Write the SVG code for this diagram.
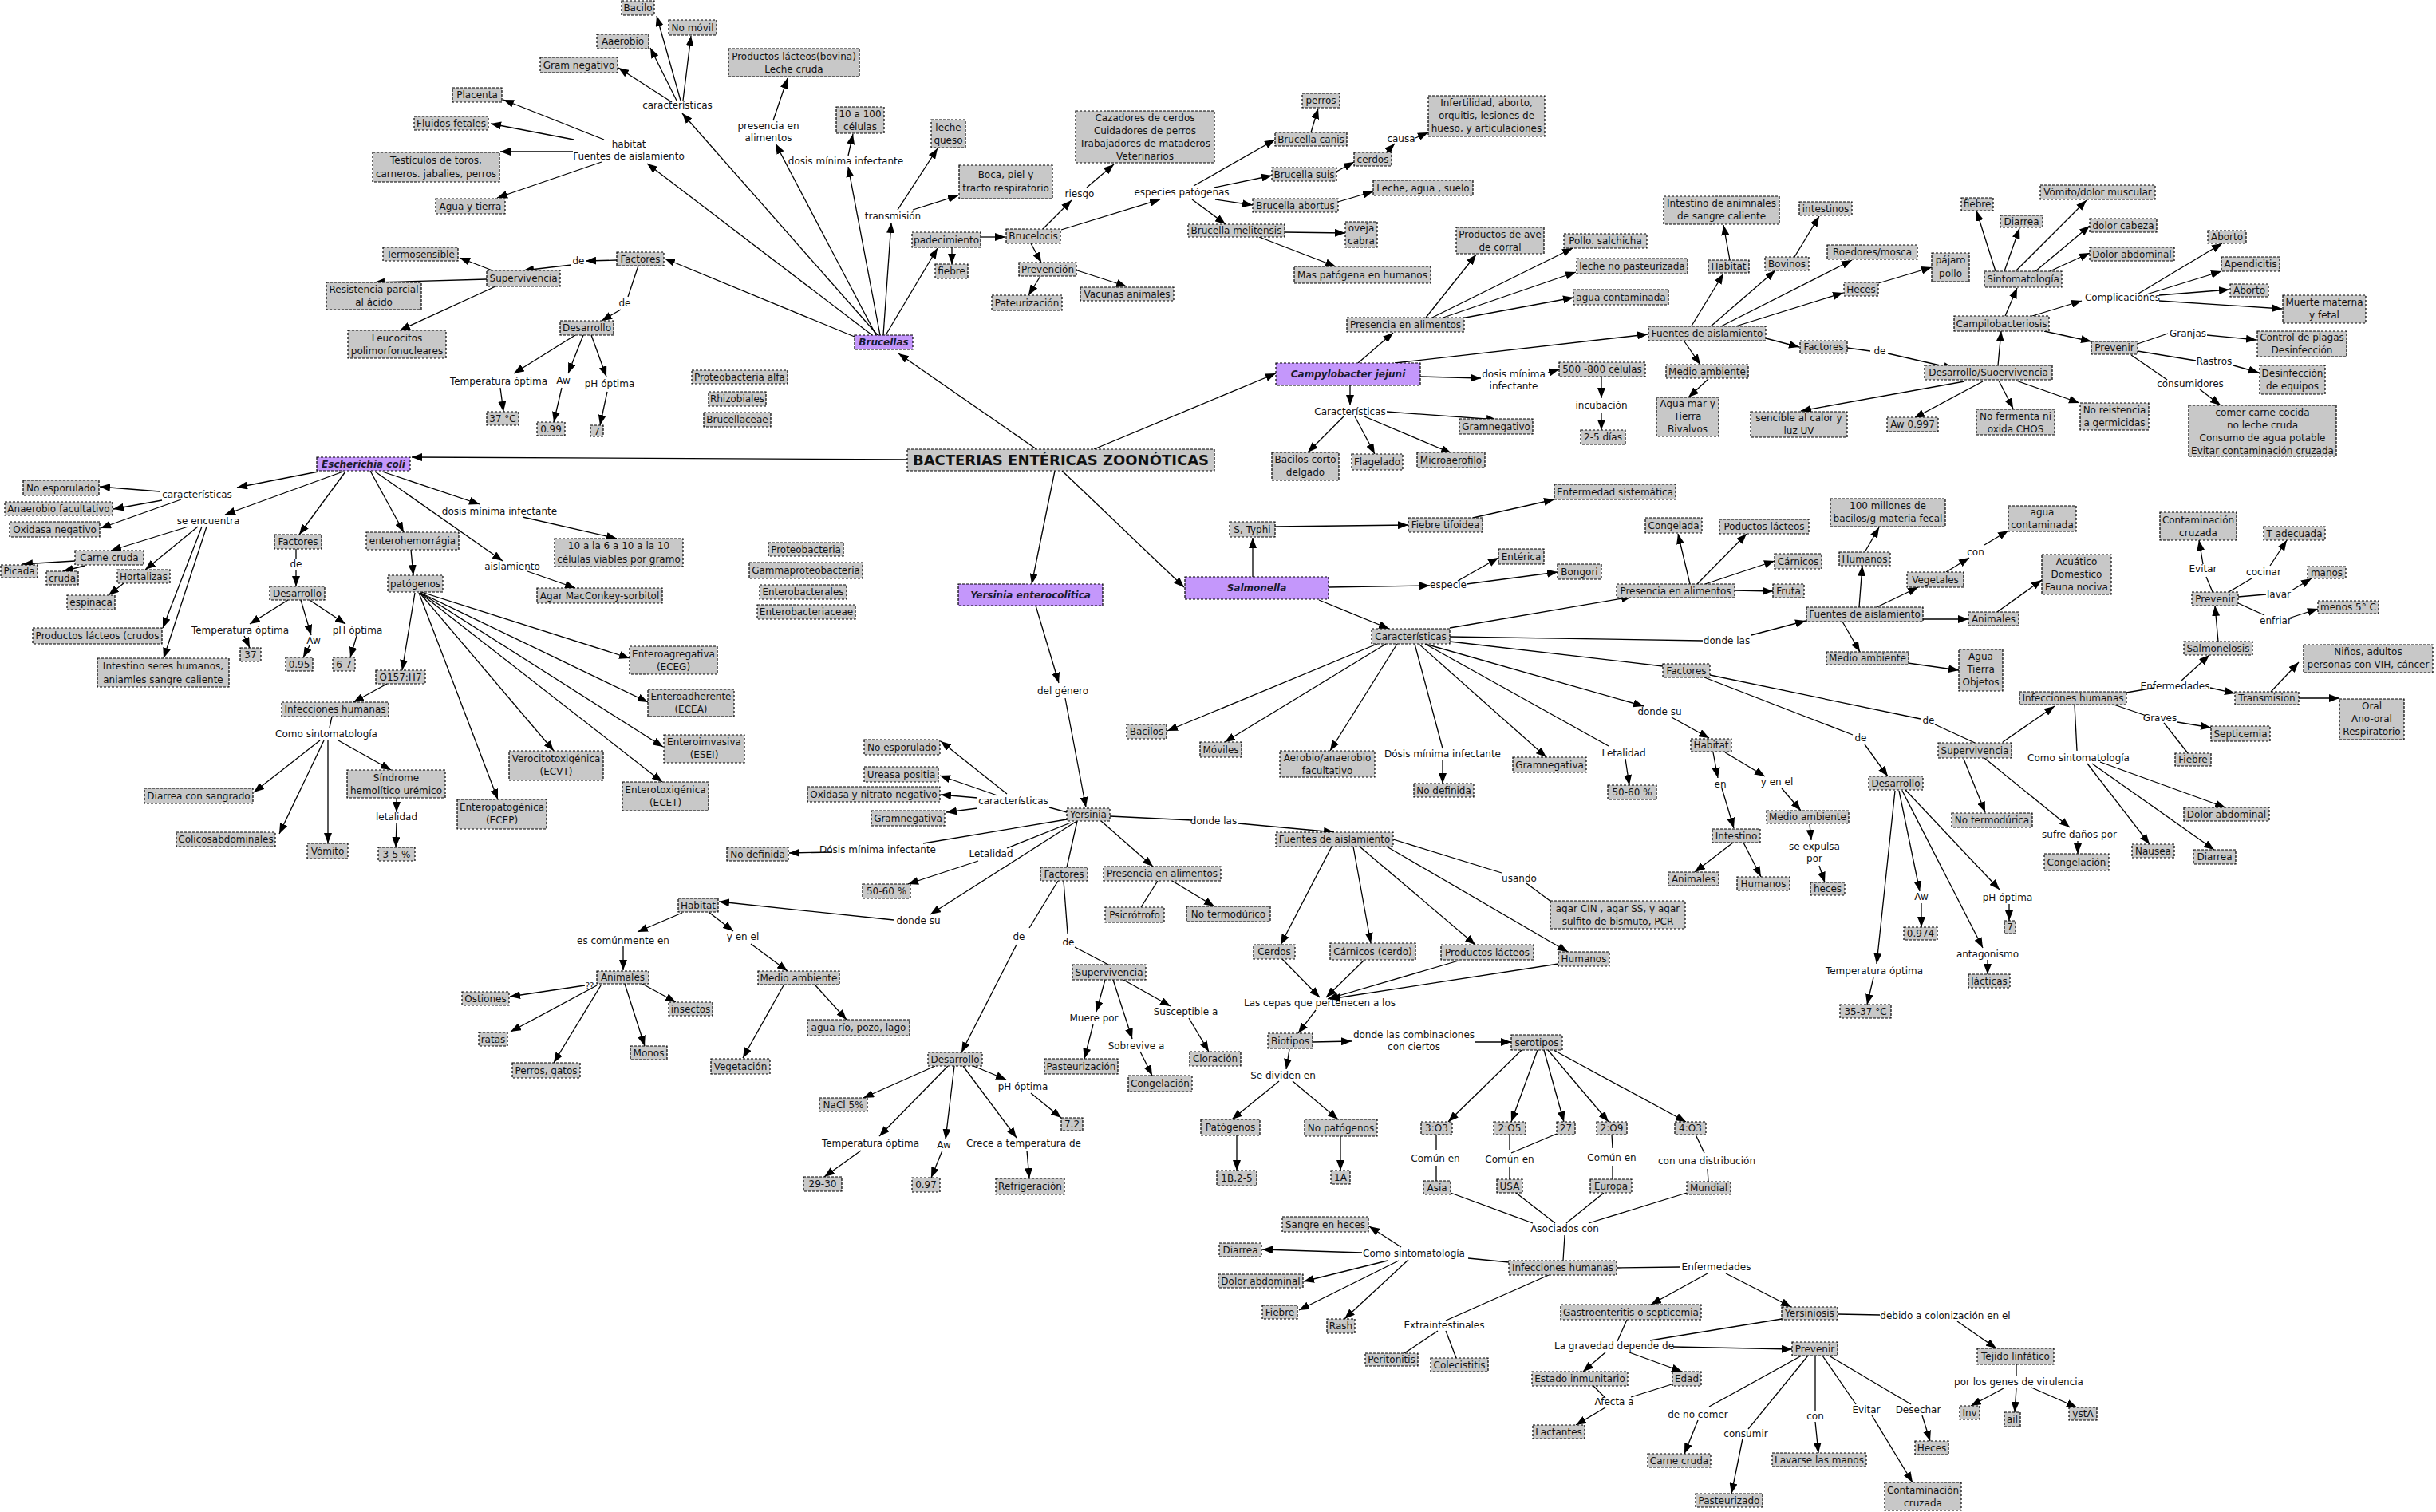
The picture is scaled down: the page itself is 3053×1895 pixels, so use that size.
<svg xmlns="http://www.w3.org/2000/svg" width="3053" height="1895" viewBox="0 0 3053 1895">
<defs>
<marker id="ah" markerWidth="13" markerHeight="10" refX="13" refY="5" orient="auto" markerUnits="userSpaceOnUse"><path d="M0,0 L13,5 L0,10 z" fill="#000"/></marker>
<style>
.n rect{fill:#c8c8c8;stroke:#000;stroke-width:1.2;stroke-dasharray:3 2}
.m rect{fill:#c497fb;stroke:#000;stroke-width:1.2;stroke-dasharray:3 2}
text{font-family:"DejaVu Sans",Verdana,sans-serif;font-size:12px;fill:#111;text-anchor:middle}
.m text{font-weight:bold;font-style:italic;fill:#1a1a2e}
.tt text{font-weight:bold;font-size:18px}
#connectors path{stroke:#000;stroke-width:1.3;fill:none}
#connectors .a{marker-end:url(#ah)}
</style>
</defs>
<rect width="3053" height="1895" fill="#fff"/>
<g id="connectors">
<!-- Brucellas -->
<path class="a" d="M1100,420 L855,142"/>
<path class="a" d="M853,126 L823,20"/>
<path class="a" d="M856,126 L866,45"/>
<path class="a" d="M848,126 L815,60"/>
<path class="a" d="M842,128 L775,85"/>
<path class="a" d="M1093,420 L811,205"/>
<path class="a" d="M757,175 L631,125"/>
<path class="a" d="M719,175 L615,155"/>
<path class="a" d="M718,190 L627,190"/>
<path class="a" d="M754,203 L623,248"/>
<path class="a" d="M1098,420 L972,180"/>
<path class="a" d="M969,151 L987,98"/>
<path class="a" d="M1103,420 L1063,209"/>
<path class="a" d="M1063,195 L1069,168"/>
<path class="a" d="M1107,420 L1117,279"/>
<path class="a" d="M1125,263 L1175,186"/>
<path class="a" d="M1144,263 L1201,245"/>
<path class="a" d="M1110,420 L1175,311"/>
<path class="a" d="M1193,310 L1193,331"/>
<path class="a" d="M1229,297 L1260,297"/>
<path class="a" d="M1307,287 L1343,251"/>
<path class="a" d="M1362,235 L1396,206"/>
<path class="a" d="M1330,288 L1454,250"/>
<path class="a" d="M1496,233 L1598,175"/>
<path class="a" d="M1522,235 L1594,220"/>
<path class="a" d="M1523,250 L1570,257"/>
<path class="a" d="M1494,250 L1536,281"/>
<path class="a" d="M1643,166 L1652,136"/>
<path class="a" d="M1675,215 L1697,203"/>
<path class="a" d="M1738,190 L1748,180"/>
<path class="a" d="M1774,173 L1790,166"/>
<path class="a" d="M1677,253 L1721,240"/>
<path class="a" d="M1610,291 L1686,292"/>
<path class="a" d="M1578,297 L1674,334"/>
<path class="a" d="M1292,305 L1305,329"/>
<path class="a" d="M1304,346 L1289,370"/>
<path class="a" d="M1347,338 L1412,359"/>
<path class="a" d="M1071,422 L833,324"/>
<path class="a" d="M773,326 L734,327"/>
<path class="a" d="M716,332 L656,339"/>
<path class="a" d="M617,339 L576,323"/>
<path class="a" d="M610,350 L469,354"/>
<path class="a" d="M621,359 L501,414"/>
<path d="M800,333 L787,372"/>
<path class="a" d="M778,388 L754,402"/>
<path class="a" d="M721,420 L644,468"/>
<path class="a" d="M731,420 L712,468"/>
<path class="a" d="M741,420 L760,472"/>
<path class="a" d="M627,486 L631,516"/>
<path class="a" d="M704,486 L694,529"/>
<path class="a" d="M761,491 L752,533"/>
<!-- title -->
<path class="a" d="M1299,563 L1126,443"/>
<path class="a" d="M1137,576 L516,573"/>
<path class="a" d="M1371,563 L1599,468"/>
<path class="a" d="M1322,590 L1293,732"/>
<path class="a" d="M1331,590 L1484,736"/>
<!-- Campylobacter -->
<path class="a" d="M1702,455 L1746,417"/>
<path class="a" d="M1787,398 L1850,319"/>
<path class="a" d="M1795,398 L1971,311"/>
<path class="a" d="M1803,400 L1975,341"/>
<path class="a" d="M1815,402 L1972,373"/>
<path class="a" d="M1748,455 L2065,419"/>
<path class="a" d="M2119,410 L2160,343"/>
<path class="a" d="M2168,326 L2160,282"/>
<path class="a" d="M2144,409 L2225,339"/>
<path class="a" d="M2249,322 L2280,271"/>
<path class="a" d="M2157,409 L2321,326"/>
<path class="a" d="M2172,410 L2310,367"/>
<path class="a" d="M2354,355 L2421,335"/>
<path class="a" d="M2111,428 L2131,457"/>
<path class="a" d="M2141,475 L2116,498"/>
<path class="a" d="M2213,424 L2255,435"/>
<path d="M2315,436 L2344,440"/>
<path class="a" d="M2366,443 L2449,462"/>
<path class="a" d="M2462,478 L2257,515"/>
<path class="a" d="M2485,478 L2399,524"/>
<path class="a" d="M2505,477 L2523,512"/>
<path class="a" d="M2527,477 L2606,505"/>
<path class="a" d="M2504,458 L2508,415"/>
<path class="a" d="M2513,396 L2528,361"/>
<path class="a" d="M2501,340 L2477,264"/>
<path class="a" d="M2512,340 L2531,286"/>
<path class="a" d="M2526,340 L2615,251"/>
<path class="a" d="M2551,340 L2619,283"/>
<path class="a" d="M2569,340 L2619,317"/>
<path class="a" d="M2547,396 L2609,377"/>
<path class="a" d="M2680,368 L2785,305"/>
<path class="a" d="M2690,369 L2784,340"/>
<path class="a" d="M2706,370 L2794,363"/>
<path class="a" d="M2706,377 L2860,387"/>
<path class="a" d="M2562,415 L2621,428"/>
<path d="M2679,431 L2717,418"/>
<path class="a" d="M2766,420 L2828,426"/>
<path d="M2679,440 L2752,452"/>
<path class="a" d="M2799,458 L2831,467"/>
<path d="M2671,445 L2716,476"/>
<path class="a" d="M2757,488 L2783,508"/>
<path class="a" d="M1780,472 L1856,474"/>
<path class="a" d="M1940,467 L1954,463"/>
<path class="a" d="M2007,472 L2007,499"/>
<path class="a" d="M2007,517 L2007,539"/>
<path class="a" d="M1692,483 L1692,508"/>
<path class="a" d="M1738,516 L1876,526"/>
<path class="a" d="M1684,522 L1639,567"/>
<path class="a" d="M1698,522 L1723,569"/>
<path class="a" d="M1710,522 L1819,568"/>
<!-- Salmonella -->
<path class="a" d="M1570,723 L1570,674"/>
<path class="a" d="M1598,660 L1765,658"/>
<path class="a" d="M1846,649 L1948,626"/>
<path class="a" d="M1665,736 L1792,734"/>
<path class="a" d="M1827,728 L1878,699"/>
<path class="a" d="M1838,732 L1952,717"/>
<path class="a" d="M1653,752 L1741,788"/>
<path class="a" d="M1817,787 L2045,748"/>
<path class="a" d="M2118,732 L2103,669"/>
<path class="a" d="M2127,732 L2189,669"/>
<path class="a" d="M2137,732 L2224,703"/>
<path class="a" d="M2174,740 L2222,741"/>
<path d="M1817,798 L2134,803"/>
<path class="a" d="M2195,796 L2263,778"/>
<path d="M1817,804 L2084,835"/>
<path class="a" d="M2330,761 L2334,709"/>
<path class="a" d="M2337,692 L2355,661"/>
<path class="a" d="M2352,761 L2404,736"/>
<path class="a" d="M2439,717 L2468,699"/>
<path class="a" d="M2487,683 L2517,665"/>
<path class="a" d="M2410,776 L2467,776"/>
<path class="a" d="M2503,767 L2559,727"/>
<path class="a" d="M2309,779 L2331,817"/>
<path class="a" d="M2391,831 L2455,840"/>
<path d="M2136,849 L2322,921"/>
<path d="M2143,846 L2407,901"/>
<path class="a" d="M2337,933 L2366,973"/>
<path d="M2425,908 L2475,931"/>
<path class="a" d="M2510,930 L2575,885"/>
<path class="a" d="M2461,951 L2488,1018"/>
<path class="a" d="M2487,950 L2594,1037"/>
<path class="a" d="M2604,1054 L2604,1070"/>
<path d="M2665,868 L2700,862"/>
<path class="a" d="M2734,853 L2769,821"/>
<path class="a" d="M2780,804 L2776,759"/>
<path d="M2773,742 L2765,723"/>
<path class="a" d="M2761,707 L2756,677"/>
<path d="M2793,742 L2822,725"/>
<path class="a" d="M2845,709 L2866,677"/>
<path d="M2805,748 L2840,745"/>
<path class="a" d="M2872,740 L2897,725"/>
<path d="M2805,756 L2838,771"/>
<path class="a" d="M2868,775 L2905,763"/>
<path class="a" d="M2770,862 L2801,869"/>
<path class="a" d="M2846,867 L2881,830"/>
<path class="a" d="M2881,875 L2932,875"/>
<path d="M2649,883 L2690,897"/>
<path class="a" d="M2729,905 L2771,912"/>
<path d="M2712,906 L2742,944"/>
<path d="M2600,883 L2603,941"/>
<path class="a" d="M2616,957 L2694,1058"/>
<path class="a" d="M2622,957 L2775,1065"/>
<path class="a" d="M2632,955 L2789,1012"/>
<path class="a" d="M1786,807 L2060,885"/>
<path class="a" d="M2095,899 L2142,925"/>
<path class="a" d="M2147,943 L2153,975"/>
<path class="a" d="M2158,988 L2173,1038"/>
<path class="a" d="M2172,1056 L2124,1093"/>
<path class="a" d="M2185,1056 L2207,1099"/>
<path class="a" d="M2162,943 L2212,973"/>
<path class="a" d="M2233,988 L2257,1016"/>
<path class="a" d="M2268,1033 L2270,1053"/>
<path class="a" d="M2280,1085 L2287,1106"/>
<path class="a" d="M2375,991 L2352,1208"/>
<path class="a" d="M2348,1225 L2340,1259"/>
<path class="a" d="M2380,991 L2406,1117"/>
<path class="a" d="M2408,1132 L2408,1162"/>
<path class="a" d="M2384,991 L2485,1188"/>
<path class="a" d="M2491,1203 L2491,1221"/>
<path class="a" d="M2388,990 L2506,1115"/>
<path class="a" d="M2518,1133 L2518,1154"/>
<path class="a" d="M1726,807 L1463,916"/>
<path class="a" d="M1737,807 L1535,930"/>
<path class="a" d="M1751,807 L1667,941"/>
<path d="M1773,807 L1808,938"/>
<path class="a" d="M1808,952 L1808,982"/>
<path class="a" d="M1778,807 L1938,949"/>
<path d="M1786,807 L2016,935"/>
<path class="a" d="M2037,951 L2042,984"/>
<!-- Yersinia -->
<path class="a" d="M1298,759 L1327,856"/>
<path class="a" d="M1335,875 L1361,1012"/>
<path d="M1337,1018 L1315,1012"/>
<path class="a" d="M1262,995 L1179,929"/>
<path class="a" d="M1250,997 L1178,972"/>
<path class="a" d="M1225,1000 L1179,996"/>
<path class="a" d="M1225,1013 L1186,1018"/>
<path d="M1337,1027 L1157,1057"/>
<path class="a" d="M1043,1068 L989,1069"/>
<path d="M1342,1031 L1262,1063"/>
<path class="a" d="M1226,1079 L1138,1108"/>
<path class="a" d="M1348,1030 L1166,1146"/>
<path class="a" d="M1120,1153 L901,1130"/>
<path class="a" d="M855,1144 L799,1168"/>
<path class="a" d="M781,1186 L781,1216"/>
<path class="a" d="M888,1143 L919,1167"/>
<path class="a" d="M941,1183 L987,1217"/>
<path class="a" d="M733,1235 L639,1249"/>
<path class="a" d="M748,1235 L640,1293"/>
<path class="a" d="M753,1235 L694,1332"/>
<path class="a" d="M783,1233 L808,1311"/>
<path class="a" d="M805,1233 L847,1256"/>
<path class="a" d="M982,1235 L931,1326"/>
<path class="a" d="M1022,1235 L1061,1278"/>
<path d="M1350,1029 L1337,1087"/>
<path d="M1326,1104 L1290,1163"/>
<path class="a" d="M1274,1184 L1205,1319"/>
<path d="M1333,1104 L1338,1170"/>
<path d="M1347,1187 L1389,1209"/>
<path class="a" d="M1385,1228 L1374,1268"/>
<path class="a" d="M1370,1284 L1359,1327"/>
<path class="a" d="M1395,1228 L1419,1302"/>
<path class="a" d="M1429,1318 L1444,1348"/>
<path class="a" d="M1408,1228 L1467,1261"/>
<path class="a" d="M1490,1276 L1515,1318"/>
<path class="a" d="M1172,1336 L1082,1376"/>
<path class="a" d="M1188,1336 L1102,1424"/>
<path class="a" d="M1079,1442 L1033,1475"/>
<path class="a" d="M1196,1336 L1185,1428"/>
<path class="a" d="M1181,1442 L1167,1476"/>
<path class="a" d="M1207,1336 L1274,1426"/>
<path class="a" d="M1287,1442 L1290,1477"/>
<path class="a" d="M1220,1336 L1261,1353"/>
<path class="a" d="M1292,1370 L1330,1401"/>
<path class="a" d="M1380,1029 L1445,1086"/>
<path d="M1451,1104 L1430,1137"/>
<path class="a" d="M1469,1104 L1522,1136"/>
<path d="M1391,1023 L1494,1028"/>
<path class="a" d="M1552,1032 L1672,1043"/>
<path d="M1746,1052 L1882,1094"/>
<path d="M1913,1107 L1944,1130"/>
<path class="a" d="M1669,1061 L1605,1184"/>
<path class="a" d="M1696,1061 L1718,1182"/>
<path class="a" d="M1704,1061 L1849,1184"/>
<path class="a" d="M1738,1061 L1965,1193"/>
<path class="a" d="M1607,1202 L1654,1250"/>
<path class="a" d="M1710,1203 L1662,1250"/>
<path class="a" d="M1828,1204 L1664,1252"/>
<path class="a" d="M1953,1208 L1667,1252"/>
<path class="a" d="M1649,1266 L1627,1295"/>
<path class="a" d="M1645,1306 L1694,1305"/>
<path class="a" d="M1849,1306 L1894,1306"/>
<path class="a" d="M1616,1315 L1612,1340"/>
<path class="a" d="M1603,1355 L1544,1403"/>
<path class="a" d="M1620,1355 L1677,1403"/>
<path class="a" d="M1550,1423 L1550,1467"/>
<path class="a" d="M1680,1424 L1680,1467"/>
<path class="a" d="M1907,1316 L1815,1406"/>
<path class="a" d="M1927,1316 L1894,1406"/>
<path class="a" d="M1935,1316 L1960,1406"/>
<path class="a" d="M1940,1316 L2016,1406"/>
<path class="a" d="M1947,1316 L2113,1406"/>
<path d="M1800,1422 L1800,1441 M1800,1461 L1800,1480"/>
<path d="M1892,1422 L1892,1441 M1892,1462 L1892,1478 M1951,1421 L1894,1445"/>
<path d="M2020,1422 L2021,1439 M2021,1461 L2021,1478"/>
<path d="M2125,1422 L2136,1445 M2140,1465 L2141,1481"/>
<path d="M1818,1495 L1921,1533 M1900,1495 L1949,1533 M2010,1495 L1963,1533 M2114,1495 L1991,1533"/>
<path d="M1961,1548 L1959,1580"/>
<path d="M1891,1582 L1840,1577"/>
<path class="a" d="M1756,1563 L1716,1537"/>
<path class="a" d="M1707,1570 L1582,1566"/>
<path class="a" d="M1739,1580 L1634,1606"/>
<path class="a" d="M1753,1580 L1628,1642"/>
<path class="a" d="M1765,1579 L1685,1653"/>
<path d="M1941,1598 L1812,1655"/>
<path d="M1802,1668 L1760,1696"/>
<path d="M1812,1668 L1825,1702"/>
<path d="M2026,1589 L2105,1588"/>
<path class="a" d="M2140,1596 L2069,1635"/>
<path class="a" d="M2163,1596 L2245,1638"/>
<path d="M2303,1647 L2356,1648"/>
<path class="a" d="M2453,1656 L2502,1690"/>
<path d="M2527,1710 L2527,1724"/>
<path class="a" d="M2511,1740 L2470,1762"/>
<path class="a" d="M2527,1740 L2525,1770"/>
<path class="a" d="M2546,1739 L2603,1764"/>
<path d="M2039,1654 L2027,1681"/>
<path d="M2233,1653 L2068,1680"/>
<path class="a" d="M2097,1688 L2246,1691"/>
<path class="a" d="M2012,1695 L1984,1719"/>
<path class="a" d="M2042,1695 L2108,1719"/>
<path d="M1997,1737 L2012,1752"/>
<path d="M2095,1735 L2044,1751"/>
<path class="a" d="M2012,1764 L1975,1786"/>
<path d="M2258,1699 L2142,1763"/>
<path class="a" d="M2128,1780 L2111,1822"/>
<path d="M2266,1699 L2191,1791"/>
<path class="a" d="M2184,1803 L2170,1872"/>
<path d="M2275,1699 L2275,1768"/>
<path class="a" d="M2275,1782 L2279,1821"/>
<path d="M2284,1699 L2326,1760"/>
<path class="a" d="M2346,1774 L2397,1858"/>
<path d="M2292,1699 L2395,1760"/>
<path class="a" d="M2409,1774 L2419,1806"/>
<!-- E. coli -->
<path class="a" d="M399,591 L297,611"/>
<path class="a" d="M200,616 L125,610"/>
<path class="a" d="M203,627 L142,638"/>
<path class="a" d="M227,626 L126,662"/>
<path class="a" d="M430,591 L282,645"/>
<path class="a" d="M236,660 L139,690"/>
<path class="a" d="M94,703 L28,707"/>
<path class="a" d="M106,709 L79,716"/>
<path class="a" d="M248,660 L182,714"/>
<path class="a" d="M155,731 L136,746"/>
<path class="a" d="M253,660 L204,787"/>
<path class="a" d="M259,660 L205,825"/>
<path class="a" d="M433,591 L375,670"/>
<path d="M371,688 L371,700"/>
<path class="a" d="M371,715 L371,735"/>
<path class="a" d="M361,752 L313,782"/>
<path class="a" d="M377,752 L390,796"/>
<path class="a" d="M388,752 L433,782"/>
<path class="a" d="M306,797 L313,812"/>
<path class="a" d="M388,809 L380,824"/>
<path class="a" d="M447,797 L439,824"/>
<path class="a" d="M464,590 L506,667"/>
<path class="a" d="M515,689 L518,721"/>
<path class="a" d="M520,743 L504,840"/>
<path class="a" d="M485,857 L443,880"/>
<path d="M416,898 L413,912"/>
<path class="a" d="M401,928 L318,993"/>
<path class="a" d="M406,928 L350,1045"/>
<path class="a" d="M411,928 L411,1057"/>
<path class="a" d="M424,928 L490,965"/>
<path class="a" d="M497,1000 L497,1018"/>
<path class="a" d="M497,1031 L496,1062"/>
<path class="a" d="M525,743 L624,1002"/>
<path class="a" d="M526,743 L694,941"/>
<path class="a" d="M528,742 L789,825"/>
<path class="a" d="M527,743 L812,880"/>
<path class="a" d="M527,743 L831,936"/>
<path class="a" d="M526,743 L830,980"/>
<path class="a" d="M479,591 L601,632"/>
<path class="a" d="M655,648 L773,675"/>
<path class="a" d="M470,591 L630,703"/>
<path class="a" d="M661,716 L721,737"/>
</g>

<g id="title" class="n tt"><rect x="1137" y="563" width="385" height="27"/><text x="1329.5" y="583">BACTERIAS ENTÉRICAS ZOONÓTICAS</text></g>

<g id="brucellas" class="m"><rect x="1071" y="420" width="73" height="18"/><text x="1107.5" y="433">Brucellas</text></g>
<g id="ecoli" class="m"><rect x="397" y="573" width="117" height="17"/><text x="455.5" y="586">Escherichia coli</text></g>
<g id="campy" class="m"><rect x="1599" y="455" width="181" height="28"/><text x="1689.5" y="473">Campylobacter jejuni</text></g>
<g id="yersent" class="m"><rect x="1201" y="732" width="181" height="27"/><text x="1291.5" y="750">Yersinia enterocolitica</text></g>
<g id="salmonella" class="m"><rect x="1485" y="723" width="180" height="28"/><text x="1575" y="741">Salmonella</text></g>

<!-- Brucellas nodes -->
<g id="b1" class="n"><rect x="779" y="1" width="41" height="18"/><text x="799.5" y="14">Bacilo</text></g>
<g id="b2" class="n"><rect x="838" y="25" width="60" height="19"/><text x="868" y="39">No móvil</text></g>
<g id="b3" class="n"><rect x="748" y="43" width="65" height="18"/><text x="780.5" y="56">Aaerobio</text></g>
<g id="b4" class="n"><rect x="677" y="72" width="97" height="19"/><text x="725.5" y="86">Gram negativo</text></g>
<g id="b5" class="n"><rect x="913" y="61" width="164" height="35"/><text x="995" y="75">Productos lácteos(bovina)</text><text x="995" y="91">Leche cruda</text></g>
<g id="b6" class="n"><rect x="567" y="110" width="62" height="18"/><text x="598" y="123">Placenta</text></g>
<g id="b7" class="n"><rect x="519" y="146" width="93" height="17"/><text x="565.5" y="159">Fluidos fetales</text></g>
<g id="b8" class="n"><rect x="467" y="191" width="159" height="37"/><text x="546.5" y="205">Testículos de toros,</text><text x="546.5" y="222">carneros. jabalies, perros</text></g>
<g id="b9" class="n"><rect x="546" y="249" width="87" height="19"/><text x="589.5" y="263">Agua y tierra</text></g>
<g id="b10" class="n"><rect x="1048" y="134" width="60" height="33"/><text x="1078" y="147">10 a 100</text><text x="1078" y="163">células</text></g>
<g id="b11" class="n"><rect x="1167" y="150" width="43" height="35"/><text x="1188.5" y="164">leche</text><text x="1188.5" y="180">queso</text></g>
<g id="b12" class="n"><rect x="1202" y="207" width="117" height="42"/><text x="1260.5" y="223">Boca, piel y</text><text x="1260.5" y="240">tracto respiratorio</text></g>
<g id="b13" class="n"><rect x="1143" y="291" width="86" height="19"/><text x="1186" y="305">padecimiento</text></g>
<g id="b14" class="n"><rect x="1172" y="331" width="41" height="18"/><text x="1192.5" y="344">fiebre</text></g>
<g id="b15" class="n"><rect x="1261" y="287" width="68" height="18"/><text x="1295" y="300">Brucelocis</text></g>
<g id="b16" class="n"><rect x="1348" y="139" width="174" height="65"/><text x="1435" y="152">Cazadores de cerdos</text><text x="1435" y="168">Cuidadores de perros</text><text x="1435" y="184">Trabajadores de mataderos</text><text x="1435" y="200">Veterinarios</text></g>
<g id="b17" class="n"><rect x="1277" y="329" width="72" height="17"/><text x="1313" y="342">Prevención</text></g>
<g id="b18" class="n"><rect x="1243" y="370" width="88" height="19"/><text x="1287" y="384">Pateurización</text></g>
<g id="b19" class="n"><rect x="1354" y="360" width="117" height="17"/><text x="1412.5" y="373">Vacunas animales</text></g>
<g id="b20" class="n"><rect x="1632" y="117" width="47" height="18"/><text x="1655.5" y="130">perros</text></g>
<g id="b21" class="n"><rect x="1598" y="166" width="90" height="17"/><text x="1643" y="179">Brucella canis</text></g>
<g id="b22" class="n"><rect x="1594" y="210" width="81" height="17"/><text x="1634.5" y="223">Brucella suis</text></g>
<g id="b23" class="n"><rect x="1697" y="191" width="47" height="17"/><text x="1720.5" y="204">cerdos</text></g>
<g id="b24" class="n"><rect x="1790" y="120" width="146" height="51"/><text x="1863" y="133">Infertilidad, aborto,</text><text x="1863" y="149">orquitis, lesiones de</text><text x="1863" y="165">hueso, y articulaciones</text></g>
<g id="b25" class="n"><rect x="1570" y="249" width="107" height="17"/><text x="1623.5" y="262">Brucella abortus</text></g>
<g id="b26" class="n"><rect x="1721" y="226" width="125" height="19"/><text x="1783.5" y="240">Leche, agua , suelo</text></g>
<g id="b27" class="n"><rect x="1489" y="281" width="121" height="16"/><text x="1549.5" y="293">Brucella melitensis</text></g>
<g id="b28" class="n"><rect x="1686" y="278" width="40" height="32"/><text x="1706" y="290">oveja</text><text x="1706" y="306">cabra</text></g>
<g id="b29" class="n"><rect x="1622" y="334" width="171" height="21"/><text x="1707.5" y="349">Mas patógena en humanos</text></g>
<g id="b30" class="n"><rect x="480" y="310" width="94" height="17"/><text x="527" y="323">Termosensible</text></g>
<g id="b31" class="n"><rect x="773" y="316" width="59" height="17"/><text x="802.5" y="329">Factores</text></g>
<g id="b32" class="n"><rect x="610" y="339" width="92" height="20"/><text x="656" y="353">Supervivencia</text></g>
<g id="b33" class="n"><rect x="409" y="354" width="119" height="34"/><text x="468.5" y="367">Resistencia parcial</text><text x="468.5" y="383">al ácido</text></g>
<g id="b34" class="n"><rect x="436" y="414" width="123" height="35"/><text x="497.5" y="428">Leucocitos</text><text x="497.5" y="444">polimorfonucleares</text></g>
<g id="b35" class="n"><rect x="702" y="402" width="67" height="18"/><text x="735.5" y="415">Desarrollo</text></g>
<g id="b36" class="n"><rect x="610" y="516" width="40" height="17"/><text x="630" y="529">37 °C</text></g>
<g id="b37" class="n"><rect x="673" y="529" width="35" height="17"/><text x="690.5" y="542">0.99</text></g>
<g id="b38" class="n"><rect x="740" y="533" width="16" height="14"/><text x="748" y="545">7</text></g>
<g id="b39" class="n"><rect x="867" y="464" width="120" height="17"/><text x="927" y="477">Proteobacteria alfa</text></g>
<g id="b40" class="n"><rect x="888" y="491" width="72" height="18"/><text x="924" y="504">Rhizobiales</text></g>
<g id="b41" class="n"><rect x="882" y="517" width="84" height="18"/><text x="924" y="530">Brucellaceae</text></g>

<!-- Campylobacter nodes -->
<g id="c1" class="n"><rect x="1688" y="398" width="147" height="18"/><text x="1761.5" y="411">Presencia en alimentos</text></g>
<g id="c2" class="n"><rect x="1825" y="285" width="110" height="33"/><text x="1880" y="298">Productos de ave</text><text x="1880" y="314">de corral</text></g>
<g id="c3" class="n"><rect x="1960" y="293" width="104" height="18"/><text x="2012" y="306">Pollo. salchicha</text></g>
<g id="c4" class="n"><rect x="1976" y="324" width="139" height="19"/><text x="2045.5" y="338">leche no pasteurizada</text></g>
<g id="c5" class="n"><rect x="1972" y="363" width="119" height="19"/><text x="2031.5" y="377">agua contaminada</text></g>
<g id="c6" class="n"><rect x="1954" y="454" width="108" height="18"/><text x="2008" y="467">500 -800 células</text></g>
<g id="c7" class="n"><rect x="1981" y="539" width="56" height="18"/><text x="2009" y="552">2-5 días</text></g>
<g id="c8" class="n"><rect x="1829" y="525" width="92" height="19"/><text x="1875" y="539">Gramnegativo</text></g>
<g id="c9" class="n"><rect x="1594" y="567" width="84" height="35"/><text x="1636" y="580">Bacilos corto</text><text x="1636" y="596">delgado</text></g>
<g id="c10" class="n"><rect x="1694" y="569" width="64" height="20"/><text x="1726" y="583">Flagelado</text></g>
<g id="c11" class="n"><rect x="1776" y="567" width="85" height="19"/><text x="1818.5" y="581">Microaerofilo</text></g>
<g id="c12" class="n"><rect x="2066" y="409" width="147" height="18"/><text x="2139.5" y="422">Fuentes de aislamiento</text></g>
<g id="c13" class="n"><rect x="2085" y="246" width="145" height="35"/><text x="2157.5" y="259">Intestino de animnales</text><text x="2157.5" y="275">de sangre caliente</text></g>
<g id="c14" class="n"><rect x="2255" y="253" width="66" height="17"/><text x="2288" y="266">intestinos</text></g>
<g id="c15" class="n"><rect x="2141" y="326" width="51" height="16"/><text x="2166.5" y="338">Habitat</text></g>
<g id="c16" class="n"><rect x="2212" y="322" width="55" height="17"/><text x="2239.5" y="335">Bovinos</text></g>
<g id="c17" class="n"><rect x="2290" y="307" width="113" height="18"/><text x="2346.5" y="320">Roedores/mosca</text></g>
<g id="c18" class="n"><rect x="2421" y="317" width="47" height="36"/><text x="2444.5" y="330">pájaro</text><text x="2444.5" y="347">pollo</text></g>
<g id="c19" class="n"><rect x="2311" y="354" width="43" height="17"/><text x="2332.5" y="367">Heces</text></g>
<g id="c20" class="n"><rect x="2256" y="427" width="59" height="16"/><text x="2285.5" y="439">Factores</text></g>
<g id="c21" class="n"><rect x="2412" y="458" width="160" height="18"/><text x="2492" y="471">Desarrollo/Suoervivencia</text></g>
<g id="c22" class="n"><rect x="2088" y="457" width="103" height="17"/><text x="2139.5" y="470">Medio ambiente</text></g>
<g id="c23" class="n"><rect x="2076" y="498" width="78" height="49"/><text x="2115" y="510">Agua mar y</text><text x="2115" y="526">Tierra</text><text x="2115" y="542">Bivalvos</text></g>
<g id="c24" class="n"><rect x="2194" y="516" width="121" height="32"/><text x="2254.5" y="528">sencible al calor y</text><text x="2254.5" y="544">luz UV</text></g>
<g id="c25" class="n"><rect x="2365" y="523" width="64" height="18"/><text x="2397" y="536">Aw 0.997</text></g>
<g id="c26" class="n"><rect x="2477" y="513" width="98" height="32"/><text x="2526" y="526">No fermenta ni</text><text x="2526" y="542">oxida CHOS</text></g>
<g id="c27" class="n"><rect x="2607" y="505" width="86" height="34"/><text x="2650" y="518">No reistencia</text><text x="2650" y="534">a germicidas</text></g>
<g id="c28" class="n"><rect x="2449" y="396" width="119" height="19"/><text x="2508.5" y="410">Campilobacteriosis</text></g>
<g id="c29" class="n"><rect x="2487" y="340" width="97" height="20"/><text x="2535.5" y="354">Sintomatología</text></g>
<g id="c30" class="n"><rect x="2458" y="248" width="40" height="16"/><text x="2478" y="260">fiebre</text></g>
<g id="c31" class="n"><rect x="2507" y="270" width="53" height="15"/><text x="2533.5" y="282">Diarrea</text></g>
<g id="c32" class="n"><rect x="2557" y="232" width="144" height="18"/><text x="2629" y="245">Vómito/dolor muscular</text></g>
<g id="c33" class="n"><rect x="2619" y="274" width="84" height="17"/><text x="2661" y="287">dolor cabeza</text></g>
<g id="c34" class="n"><rect x="2619" y="310" width="106" height="17"/><text x="2672" y="323">Dolor abdominal</text></g>
<g id="c35" class="n"><rect x="2767" y="289" width="48" height="16"/><text x="2791" y="301">Aborto</text></g>
<g id="c36" class="n"><rect x="2784" y="322" width="73" height="18"/><text x="2820.5" y="335">Apendicitis</text></g>
<g id="c37" class="n"><rect x="2795" y="356" width="48" height="16"/><text x="2819" y="368">Aborto</text></g>
<g id="c38" class="n"><rect x="2861" y="370" width="104" height="35"/><text x="2913" y="383">Muerte materna</text><text x="2913" y="399">y fetal</text></g>
<g id="c39" class="n"><rect x="2621" y="428" width="58" height="16"/><text x="2650" y="440">Prevenir</text></g>
<g id="c40" class="n"><rect x="2829" y="415" width="112" height="32"/><text x="2885" y="427">Control de plagas</text><text x="2885" y="443">Desinfección</text></g>
<g id="c41" class="n"><rect x="2832" y="458" width="82" height="36"/><text x="2873" y="472">Desinfección</text><text x="2873" y="488">de equipos</text></g>
<g id="c42" class="n"><rect x="2743" y="508" width="185" height="64"/><text x="2835.5" y="521">comer carne cocida</text><text x="2835.5" y="537">no leche cruda</text><text x="2835.5" y="553">Consumo de agua potable</text><text x="2835.5" y="569">Evitar contaminación cruzada</text></g>

<!-- Salmonella nodes -->
<g id="s1" class="n"><rect x="1541" y="654" width="57" height="19"/><text x="1569.5" y="668">S, Typhi</text></g>
<g id="s2" class="n"><rect x="1765" y="649" width="93" height="18"/><text x="1811.5" y="662">Fiebre tifoidea</text></g>
<g id="s3" class="n"><rect x="1948" y="607" width="152" height="19"/><text x="2024" y="621">Enfermedad sistemática</text></g>
<g id="s4" class="n"><rect x="1878" y="688" width="57" height="19"/><text x="1906.5" y="702">Entérica</text></g>
<g id="s5" class="n"><rect x="1952" y="707" width="55" height="19"/><text x="1979.5" y="721">Bongori</text></g>
<g id="s6" class="n"><rect x="2062" y="649" width="71" height="19"/><text x="2097.5" y="663">Congelada</text></g>
<g id="s7" class="n"><rect x="2155" y="651" width="112" height="18"/><text x="2211" y="664">Poductos lácteos</text></g>
<g id="s8" class="n"><rect x="2224" y="694" width="59" height="19"/><text x="2253.5" y="708">Cárnicos</text></g>
<g id="s9" class="n"><rect x="2026" y="732" width="148" height="17"/><text x="2100" y="745">Presencia en alimentos</text></g>
<g id="s10" class="n"><rect x="2222" y="732" width="39" height="17"/><text x="2241.5" y="745">Fruta</text></g>
<g id="s11" class="n"><rect x="1719" y="788" width="98" height="19"/><text x="1768" y="802">Características</text></g>
<g id="s12" class="n"><rect x="2084" y="832" width="59" height="17"/><text x="2113.5" y="845">Factores</text></g>
<g id="s13" class="n"><rect x="1412" y="908" width="50" height="18"/><text x="1437" y="921">Bacilos</text></g>
<g id="s14" class="n"><rect x="1504" y="930" width="52" height="19"/><text x="1530" y="944">Móviles</text></g>
<g id="s15" class="n"><rect x="1604" y="941" width="119" height="33"/><text x="1663.5" y="954">Aerobio/anaerobio</text><text x="1663.5" y="970">facultativo</text></g>
<g id="s16" class="n"><rect x="1772" y="982" width="75" height="17"/><text x="1809.5" y="995">No definida</text></g>
<g id="s17" class="n"><rect x="1896" y="949" width="92" height="19"/><text x="1942" y="963">Gramnegativa</text></g>
<g id="s18" class="n"><rect x="2015" y="984" width="61" height="18"/><text x="2045.5" y="997">50-60 %</text></g>
<g id="s19" class="n"><rect x="2119" y="926" width="51" height="16"/><text x="2144.5" y="938">Habitat</text></g>
<g id="s20" class="n"><rect x="2146" y="1039" width="60" height="17"/><text x="2176" y="1052">Intestino</text></g>
<g id="s21" class="n"><rect x="2214" y="1016" width="103" height="16"/><text x="2265.5" y="1028">Medio ambiente</text></g>
<g id="s22" class="n"><rect x="2269" y="1106" width="43" height="16"/><text x="2290.5" y="1118">heces</text></g>
<g id="s23" class="n"><rect x="2091" y="1093" width="63" height="17"/><text x="2122.5" y="1106">Animales</text></g>
<g id="s24" class="n"><rect x="2177" y="1099" width="66" height="17"/><text x="2210" y="1112">Humanos</text></g>
<g id="s25" class="n"><rect x="2342" y="973" width="68" height="17"/><text x="2376" y="986">Desarrollo</text></g>
<g id="s26" class="n"><rect x="2429" y="931" width="92" height="19"/><text x="2475" y="945">Supervivencia</text></g>
<g id="s27" class="n"><rect x="2446" y="1019" width="101" height="18"/><text x="2496.5" y="1032">No termodúrica</text></g>
<g id="s28" class="n"><rect x="2386" y="1162" width="42" height="16"/><text x="2407" y="1174">0.974</text></g>
<g id="s29" class="n"><rect x="2512" y="1154" width="14" height="16"/><text x="2519" y="1166">7</text></g>
<g id="s30" class="n"><rect x="2467" y="1221" width="52" height="17"/><text x="2493" y="1234">lácticas</text></g>
<g id="s31" class="n"><rect x="2306" y="1259" width="64" height="17"/><text x="2338" y="1272">35-37 °C</text></g>
<g id="s32" class="n"><rect x="2562" y="1070" width="81" height="21"/><text x="2602.5" y="1085">Congelación</text></g>
<g id="s33" class="n"><rect x="2672" y="1058" width="53" height="17"/><text x="2698.5" y="1071">Nausea</text></g>
<g id="s34" class="n"><rect x="2749" y="1065" width="53" height="18"/><text x="2775.5" y="1078">Diarrea</text></g>
<g id="s35" class="n"><rect x="2737" y="1012" width="107" height="17"/><text x="2790.5" y="1025">Dolor abdominal</text></g>
<g id="s36" class="n"><rect x="2531" y="867" width="134" height="16"/><text x="2598" y="879">Infecciones humanas</text></g>
<g id="s37" class="n"><rect x="2771" y="910" width="74" height="19"/><text x="2808" y="924">Septicemia</text></g>
<g id="s38" class="n"><rect x="2726" y="944" width="45" height="16"/><text x="2748.5" y="956">Fiebre</text></g>
<g id="s39" class="n"><rect x="2801" y="867" width="80" height="16"/><text x="2841" y="879">Transmision</text></g>
<g id="s40" class="n"><rect x="2932" y="876" width="81" height="51"/><text x="2972.5" y="889">Oral</text><text x="2972.5" y="905">Ano-oral</text><text x="2972.5" y="921">Respiratorio</text></g>
<g id="s41" class="n"><rect x="2887" y="808" width="162" height="35"/><text x="2968" y="821">Niños, adultos</text><text x="2968" y="837">personas con VIH, cáncer</text></g>
<g id="s42" class="n"><rect x="2737" y="804" width="86" height="17"/><text x="2780" y="817">Salmonelosis</text></g>
<g id="s43" class="n"><rect x="2747" y="742" width="58" height="17"/><text x="2776" y="755">Prevenir</text></g>
<g id="s44" class="n"><rect x="2707" y="642" width="96" height="35"/><text x="2755" y="656">Contaminación</text><text x="2755" y="672">cruzada</text></g>
<g id="s45" class="n"><rect x="2837" y="660" width="77" height="17"/><text x="2875.5" y="673">T adecuada</text></g>
<g id="s46" class="n"><rect x="2892" y="710" width="48" height="15"/><text x="2916" y="722">manos</text></g>
<g id="s47" class="n"><rect x="2905" y="753" width="76" height="16"/><text x="2943" y="765">menos 5° C</text></g>
<g id="s48" class="n"><rect x="2264" y="761" width="146" height="18"/><text x="2337" y="774">Fuentes de aislamiento</text></g>
<g id="s49" class="n"><rect x="2305" y="692" width="64" height="17"/><text x="2337" y="705">Humanos</text></g>
<g id="s50" class="n"><rect x="2294" y="625" width="144" height="35"/><text x="2366" y="638">100 millones de</text><text x="2366" y="654">bacilos/g materia fecal</text></g>
<g id="s51" class="n"><rect x="2390" y="717" width="71" height="19"/><text x="2425.5" y="731">Vegetales</text></g>
<g id="s52" class="n"><rect x="2517" y="634" width="85" height="32"/><text x="2559.5" y="646">agua</text><text x="2559.5" y="662">contaminada</text></g>
<g id="s53" class="n"><rect x="2467" y="767" width="63" height="17"/><text x="2498.5" y="780">Animales</text></g>
<g id="s54" class="n"><rect x="2559" y="695" width="87" height="50"/><text x="2602.5" y="708">Acuático</text><text x="2602.5" y="724">Domestico</text><text x="2602.5" y="740">Fauna nociva</text></g>
<g id="s55" class="n"><rect x="2289" y="817" width="103" height="16"/><text x="2340.5" y="829">Medio ambiente</text></g>
<g id="s56" class="n"><rect x="2455" y="814" width="55" height="52"/><text x="2482.5" y="827">Agua</text><text x="2482.5" y="843">Tierra</text><text x="2482.5" y="859">Objetos</text></g>

<!-- Yersinia nodes -->
<g id="y1" class="n"><rect x="963" y="680" width="94" height="17"/><text x="1010" y="693">Proteobacteria</text></g>
<g id="y2" class="n"><rect x="939" y="705" width="142" height="20"/><text x="1010" y="719">Gammaproteobacteria</text></g>
<g id="y3" class="n"><rect x="952" y="733" width="109" height="18"/><text x="1006.5" y="746">Enterobacterales</text></g>
<g id="y4" class="n"><rect x="949" y="758" width="123" height="18"/><text x="1010.5" y="771">Enterobacteriaceae</text></g>
<g id="y5" class="n"><rect x="1083" y="927" width="95" height="19"/><text x="1130.5" y="941">No esporulado</text></g>
<g id="y6" class="n"><rect x="1083" y="961" width="93" height="19"/><text x="1129.5" y="975">Ureasa positia</text></g>
<g id="y7" class="n"><rect x="1012" y="986" width="166" height="19"/><text x="1095" y="1000">Oxidasa y nitrato negativo</text></g>
<g id="y8" class="n"><rect x="1092" y="1016" width="92" height="19"/><text x="1138" y="1030">Gramnegativa</text></g>
<g id="y9" class="n"><rect x="1337" y="1013" width="54" height="16"/><text x="1364" y="1025">Yersinia</text></g>
<g id="y10" class="n"><rect x="911" y="1062" width="77" height="17"/><text x="949.5" y="1075">No definida</text></g>
<g id="y11" class="n"><rect x="1081" y="1108" width="60" height="18"/><text x="1111" y="1121">50-60 %</text></g>
<g id="y12" class="n"><rect x="1304" y="1087" width="59" height="17"/><text x="1333.5" y="1100">Factores</text></g>
<g id="y13" class="n"><rect x="1383" y="1086" width="147" height="18"/><text x="1456.5" y="1099">Presencia en alimentos</text></g>
<g id="y14" class="n"><rect x="1385" y="1137" width="74" height="19"/><text x="1422" y="1151">Psicrótrofo</text></g>
<g id="y15" class="n"><rect x="1487" y="1136" width="105" height="19"/><text x="1539.5" y="1150">No termodúrico</text></g>
<g id="y16" class="n"><rect x="850" y="1126" width="50" height="17"/><text x="875" y="1139">Habitat</text></g>
<g id="y17" class="n"><rect x="748" y="1217" width="65" height="16"/><text x="780.5" y="1229">Animales</text></g>
<g id="y18" class="n"><rect x="950" y="1217" width="102" height="17"/><text x="1001" y="1230">Medio ambiente</text></g>
<g id="y19" class="n"><rect x="1344" y="1209" width="92" height="19"/><text x="1390" y="1223">Supervivencia</text></g>
<g id="y20" class="n"><rect x="579" y="1243" width="59" height="17"/><text x="608.5" y="1256">Ostiones</text></g>
<g id="y21" class="n"><rect x="838" y="1256" width="55" height="17"/><text x="865.5" y="1269">insectos</text></g>
<g id="y22" class="n"><rect x="600" y="1294" width="36" height="17"/><text x="618" y="1307">ratas</text></g>
<g id="y23" class="n"><rect x="790" y="1311" width="46" height="17"/><text x="813" y="1324">Monos</text></g>
<g id="y24" class="n"><rect x="642" y="1332" width="85" height="19"/><text x="684.5" y="1346">Perros, gatos</text></g>
<g id="y25" class="n"><rect x="891" y="1327" width="74" height="19"/><text x="928" y="1341">Vegetación</text></g>
<g id="y26" class="n"><rect x="1012" y="1278" width="128" height="20"/><text x="1076" y="1292">agua río, pozo, lago</text></g>
<g id="y27" class="n"><rect x="1309" y="1327" width="92" height="19"/><text x="1355" y="1341">Pasteurización</text></g>
<g id="y28" class="n"><rect x="1414" y="1348" width="80" height="20"/><text x="1454" y="1362">Congelación</text></g>
<g id="y29" class="n"><rect x="1491" y="1318" width="64" height="18"/><text x="1523" y="1331">Cloración</text></g>
<g id="y30" class="n"><rect x="1163" y="1319" width="68" height="17"/><text x="1197" y="1332">Desarrollo</text></g>
<g id="y31" class="n"><rect x="1027" y="1376" width="60" height="17"/><text x="1057" y="1389">NaCl 5%</text></g>
<g id="y32" class="n"><rect x="1330" y="1401" width="27" height="16"/><text x="1343.5" y="1413">7.2</text></g>
<g id="y33" class="n"><rect x="1007" y="1475" width="48" height="18"/><text x="1031" y="1488">29-30</text></g>
<g id="y34" class="n"><rect x="1143" y="1476" width="35" height="18"/><text x="1160.5" y="1489">0.97</text></g>
<g id="y35" class="n"><rect x="1248" y="1477" width="86" height="20"/><text x="1291" y="1491">Refrigeración</text></g>
<g id="y36" class="n"><rect x="1599" y="1043" width="147" height="18"/><text x="1672.5" y="1056">Fuentes de aislamiento</text></g>
<g id="y37" class="n"><rect x="1943" y="1129" width="169" height="35"/><text x="2027.5" y="1143">agar CIN , agar SS, y agar</text><text x="2027.5" y="1159">sulfito de bismuto, PCR</text></g>
<g id="y38" class="n"><rect x="1571" y="1184" width="52" height="18"/><text x="1597" y="1197">Cerdos</text></g>
<g id="y39" class="n"><rect x="1667" y="1182" width="107" height="21"/><text x="1720.5" y="1197">Cárnicos (cerdo)</text></g>
<g id="y40" class="n"><rect x="1806" y="1184" width="116" height="19"/><text x="1864" y="1198">Productos lácteos</text></g>
<g id="y41" class="n"><rect x="1953" y="1193" width="64" height="18"/><text x="1985" y="1206">Humanos</text></g>
<g id="y42" class="n"><rect x="1589" y="1295" width="56" height="19"/><text x="1617" y="1309">Biotipos</text></g>
<g id="y43" class="n"><rect x="1894" y="1297" width="64" height="19"/><text x="1926" y="1311">serotipos</text></g>
<g id="y44" class="n"><rect x="1505" y="1403" width="74" height="20"/><text x="1542" y="1417">Patógenos</text></g>
<g id="y45" class="n"><rect x="1635" y="1403" width="91" height="21"/><text x="1680.5" y="1418">No patógenos</text></g>
<g id="y46" class="n"><rect x="1525" y="1467" width="50" height="19"/><text x="1550" y="1481">1B,2-5</text></g>
<g id="y47" class="n"><rect x="1668" y="1467" width="24" height="17"/><text x="1680" y="1480">1A</text></g>
<g id="y48" class="n"><rect x="1781" y="1406" width="39" height="16"/><text x="1800.5" y="1418">3:O3</text></g>
<g id="y49" class="n"><rect x="1872" y="1406" width="40" height="16"/><text x="1892" y="1418">2:O5</text></g>
<g id="y50" class="n"><rect x="1951" y="1406" width="23" height="16"/><text x="1962.5" y="1418">27</text></g>
<g id="y51" class="n"><rect x="2001" y="1406" width="38" height="16"/><text x="2020" y="1418">2:O9</text></g>
<g id="y52" class="n"><rect x="2099" y="1406" width="39" height="16"/><text x="2118.5" y="1418">4:O3</text></g>
<g id="y53" class="n"><rect x="1784" y="1480" width="34" height="17"/><text x="1801" y="1493">Asia</text></g>
<g id="y54" class="n"><rect x="1876" y="1478" width="32" height="17"/><text x="1892" y="1491">USA</text></g>
<g id="y55" class="n"><rect x="1993" y="1478" width="52" height="17"/><text x="2019" y="1491">Europa</text></g>
<g id="y56" class="n"><rect x="2114" y="1481" width="55" height="16"/><text x="2141.5" y="1493">Mundial</text></g>
<g id="y57" class="n"><rect x="1891" y="1580" width="135" height="18"/><text x="1958.5" y="1593">Infecciones humanas</text></g>
<g id="y58" class="n"><rect x="1607" y="1525" width="108" height="19"/><text x="1661" y="1539">Sangre en heces</text></g>
<g id="y59" class="n"><rect x="1528" y="1558" width="53" height="17"/><text x="1554.5" y="1571">Diarrea</text></g>
<g id="y60" class="n"><rect x="1527" y="1597" width="106" height="17"/><text x="1580" y="1610">Dolor abdominal</text></g>
<g id="y61" class="n"><rect x="1582" y="1636" width="44" height="17"/><text x="1604" y="1649">Fiebre</text></g>
<g id="y62" class="n"><rect x="1663" y="1653" width="35" height="18"/><text x="1680.5" y="1666">Rash</text></g>
<g id="y63" class="n"><rect x="1711" y="1696" width="66" height="16"/><text x="1744" y="1708">Peritonitis</text></g>
<g id="y64" class="n"><rect x="1793" y="1702" width="72" height="17"/><text x="1829" y="1715">Colecistitis</text></g>
<g id="y65" class="n"><rect x="1956" y="1635" width="176" height="19"/><text x="2044" y="1649">Gastroenteritis o septicemia</text></g>
<g id="y66" class="n"><rect x="2233" y="1638" width="70" height="16"/><text x="2268" y="1650">Yersiniosis</text></g>
<g id="y67" class="n"><rect x="2246" y="1682" width="57" height="17"/><text x="2274.5" y="1695">Prevenir</text></g>
<g id="y68" class="n"><rect x="2478" y="1690" width="96" height="20"/><text x="2526" y="1704">Tejido linfático</text></g>
<g id="y69" class="n"><rect x="1920" y="1719" width="120" height="18"/><text x="1980" y="1732">Estado inmunitario</text></g>
<g id="y70" class="n"><rect x="2096" y="1719" width="36" height="18"/><text x="2114" y="1732">Edad</text></g>
<g id="y71" class="n"><rect x="1921" y="1786" width="65" height="17"/><text x="1953.5" y="1799">Lactantes</text></g>
<g id="y72" class="n"><rect x="2065" y="1822" width="79" height="17"/><text x="2104.5" y="1835">Carne cruda</text></g>
<g id="y73" class="n"><rect x="2125" y="1872" width="84" height="17"/><text x="2167" y="1885">Pasteurizado</text></g>
<g id="y74" class="n"><rect x="2221" y="1821" width="118" height="17"/><text x="2280" y="1834">Lavarse las manos</text></g>
<g id="y75" class="n"><rect x="2400" y="1806" width="42" height="17"/><text x="2421" y="1819">Heces</text></g>
<g id="y76" class="n"><rect x="2362" y="1858" width="96" height="35"/><text x="2410" y="1872">Contaminación</text><text x="2410" y="1888">cruzada</text></g>
<g id="y77" class="n"><rect x="2456" y="1762" width="25" height="17"/><text x="2468.5" y="1775">Inv</text></g>
<g id="y78" class="n"><rect x="2512" y="1770" width="20" height="18"/><text x="2522" y="1783">ail</text></g>
<g id="y79" class="n"><rect x="2593" y="1764" width="35" height="16"/><text x="2610.5" y="1776">ystA</text></g>

<!-- E. coli nodes -->
<g id="e1" class="n"><rect x="29" y="602" width="95" height="19"/><text x="76.5" y="616">No esporulado</text></g>
<g id="e2" class="n"><rect x="6" y="629" width="135" height="17"/><text x="73.5" y="642">Anaerobio facultativo</text></g>
<g id="e3" class="n"><rect x="12" y="654" width="113" height="19"/><text x="68.5" y="668">Oxidasa negativo</text></g>
<g id="e4" class="n"><rect x="94" y="690" width="86" height="18"/><text x="137" y="703">Carne cruda</text></g>
<g id="e5" class="n"><rect x="1" y="708" width="46" height="16"/><text x="24" y="720">Picada</text></g>
<g id="e6" class="n"><rect x="58" y="716" width="40" height="17"/><text x="78" y="729">cruda</text></g>
<g id="e7" class="n"><rect x="147" y="714" width="66" height="17"/><text x="180" y="727">Hortalizas</text></g>
<g id="e8" class="n"><rect x="84" y="746" width="60" height="18"/><text x="114" y="759">espinaca</text></g>
<g id="e9" class="n"><rect x="41" y="787" width="162" height="20"/><text x="122" y="801">Productos lácteos (crudos</text></g>
<g id="e10" class="n"><rect x="122" y="825" width="165" height="36"/><text x="204.5" y="839">Intestino seres humanos,</text><text x="204.5" y="856">aniamles sangre caliente</text></g>
<g id="e11" class="n"><rect x="344" y="670" width="59" height="18"/><text x="373.5" y="683">Factores</text></g>
<g id="e12" class="n"><rect x="338" y="735" width="69" height="17"/><text x="372.5" y="748">Desarrollo</text></g>
<g id="e13" class="n"><rect x="301" y="812" width="26" height="17"/><text x="314" y="825">37</text></g>
<g id="e14" class="n"><rect x="358" y="824" width="34" height="17"/><text x="375" y="837">0.95</text></g>
<g id="e15" class="n"><rect x="417" y="824" width="28" height="17"/><text x="431" y="837">6-7</text></g>
<g id="e16" class="n"><rect x="459" y="667" width="116" height="22"/><text x="517" y="682">enterohemorrágia</text></g>
<g id="e17" class="n"><rect x="486" y="721" width="69" height="21"/><text x="520.5" y="736">patógenos</text></g>
<g id="e18" class="n"><rect x="471" y="840" width="62" height="17"/><text x="502" y="853">O157:H7</text></g>
<g id="e19" class="n"><rect x="353" y="880" width="134" height="18"/><text x="420" y="893">Infecciones humanas</text></g>
<g id="e20" class="n"><rect x="181" y="988" width="136" height="19"/><text x="249" y="1002">Diarrea con sangrado</text></g>
<g id="e21" class="n"><rect x="435" y="965" width="123" height="35"/><text x="496.5" y="979">Síndrome</text><text x="496.5" y="995">hemolítico urémico</text></g>
<g id="e22" class="n"><rect x="474" y="1062" width="46" height="17"/><text x="497" y="1075">3-5 %</text></g>
<g id="e23" class="n"><rect x="221" y="1043" width="124" height="18"/><text x="283" y="1056">Colicosabdominales</text></g>
<g id="e24" class="n"><rect x="385" y="1057" width="51" height="19"/><text x="410.5" y="1071">Vómito</text></g>
<g id="e25" class="n"><rect x="573" y="1002" width="112" height="37"/><text x="629" y="1016">Enteropatogénica</text><text x="629" y="1032">(ECEP)</text></g>
<g id="e26" class="n"><rect x="638" y="941" width="118" height="37"/><text x="697" y="955">Verocitotoxigénica</text><text x="697" y="971">(ECVT)</text></g>
<g id="e27" class="n"><rect x="789" y="810" width="110" height="35"/><text x="844" y="824">Enteroagregativa</text><text x="844" y="840">(ECEG)</text></g>
<g id="e28" class="n"><rect x="812" y="864" width="108" height="34"/><text x="866" y="877">Enteroadherente</text><text x="866" y="893">(ECEA)</text></g>
<g id="e29" class="n"><rect x="832" y="921" width="101" height="35"/><text x="882.5" y="934">Enteroimvasiva</text><text x="882.5" y="950">(ESEI)</text></g>
<g id="e30" class="n"><rect x="780" y="980" width="108" height="36"/><text x="834" y="994">Enterotoxigénica</text><text x="834" y="1010">(ECET)</text></g>
<g id="e31" class="n"><rect x="695" y="675" width="161" height="35"/><text x="775.5" y="688">10 a la 6 a 10 a la 10</text><text x="775.5" y="705">células viables por gramo</text></g>
<g id="e32" class="n"><rect x="673" y="737" width="157" height="19"/><text x="751.5" y="751">Agar MacConkey-sorbitol</text></g>

<g id="labels">
<text x="849" y="136">características</text>
<text x="788" y="185">habitat</text>
<text x="788" y="200">Fuentes de aislamiento</text>
<text x="963" y="162">presencia en</text>
<text x="963" y="177">alimentos</text>
<text x="1060" y="206">dosis mínima infectante</text>
<text x="1119" y="275">transmisión</text>
<text x="1353" y="247">riesgo</text>
<text x="1481" y="245">especies patógenas</text>
<text x="1756" y="178">causa</text>
<text x="725" y="331">de</text>
<text x="783" y="384">de</text>
<text x="625" y="482">Temperatura óptima</text>
<text x="706" y="481">Aw</text>
<text x="764" y="485">pH óptima</text>
<text x="1897" y="473">dosis mínima</text>
<text x="1897" y="488">infectante</text>
<text x="2007" y="512">incubación</text>
<text x="1692" y="520">Características</text>
<text x="2356" y="444">de</text>
<text x="2660" y="377">Complicaciones</text>
<text x="2742" y="422">Granjas</text>
<text x="2775" y="457">Rastros</text>
<text x="2745" y="485">consumidores</text>
<text x="1815" y="737">especie</text>
<text x="2164" y="807">donde las</text>
<text x="2080" y="896">donde su</text>
<text x="2156" y="987">en</text>
<text x="2227" y="984">y en el</text>
<text x="2274" y="1065">se expulsa</text>
<text x="2274" y="1080">por</text>
<text x="2332" y="929">de</text>
<text x="2417" y="907">de</text>
<text x="2408" y="1128">Aw</text>
<text x="2516" y="1129">pH óptima</text>
<text x="2491" y="1200">antagonismo</text>
<text x="2349" y="1221">Temperatura óptima</text>
<text x="1808" y="949">Dósis mínima infectante</text>
<text x="2035" y="948">Letalidad</text>
<text x="2476" y="696">con</text>
<text x="2761" y="717">Evitar</text>
<text x="2837" y="721">cocinar</text>
<text x="2856" y="749">lavar</text>
<text x="2852" y="782">enfriar</text>
<text x="2726" y="864">Enfermedades</text>
<text x="2707" y="904">Graves</text>
<text x="2605" y="954">Como sintomatología</text>
<text x="2606" y="1050">sufre daños por</text>
<text x="1332" y="870">del género</text>
<text x="1270" y="1008">características</text>
<text x="1100" y="1069">Dósis mínima infectante</text>
<text x="1242" y="1074">Letalidad</text>
<text x="1151" y="1158">donde su</text>
<text x="781" y="1183">es comúnmente en</text>
<text x="931" y="1178">y en el</text>
<text x="739" y="1239" style="font-size:10px">??</text>
<text x="1277" y="1178">de</text>
<text x="1339" y="1185">de</text>
<text x="1371" y="1280">Muere por</text>
<text x="1424" y="1315">Sobrevive a</text>
<text x="1486" y="1272">Susceptible a</text>
<text x="1282" y="1366">pH óptima</text>
<text x="1091" y="1437">Temperatura óptima</text>
<text x="1183" y="1439">Aw</text>
<text x="1283" y="1437">Crece a temperatura de</text>
<text x="1521" y="1033">donde las</text>
<text x="1904" y="1105">usando</text>
<text x="1654" y="1261">Las cepas que pertenecen a los</text>
<text x="1772" y="1301">donde las combinaciones</text>
<text x="1772" y="1316">con ciertos</text>
<text x="1608" y="1352">Se dividen en</text>
<text x="1799" y="1456">Común en</text>
<text x="1892" y="1457">Común en</text>
<text x="2020" y="1455">Común en</text>
<text x="2139" y="1459">con una distribución</text>
<text x="1961" y="1544">Asociados con</text>
<text x="1772" y="1575">Como sintomatología</text>
<text x="2151" y="1592">Enfermedades</text>
<text x="1810" y="1665">Extraintestinales</text>
<text x="2438" y="1653">debido a colonización en el</text>
<text x="2023" y="1691">La gravedad depende de</text>
<text x="2530" y="1736">por los genes de virulencia</text>
<text x="2023" y="1761">Afecta a</text>
<text x="2128" y="1777">de no comer</text>
<text x="2188" y="1801">consumir</text>
<text x="2275" y="1779">con</text>
<text x="2339" y="1771">Evitar</text>
<text x="2404" y="1771">Desechar</text>
<text x="247" y="624">características</text>
<text x="261" y="657">se encuentra</text>
<text x="371" y="711">de</text>
<text x="301" y="794">Temperatura óptima</text>
<text x="393" y="807">Aw</text>
<text x="448" y="794">pH óptima</text>
<text x="409" y="924">Como sintomatología</text>
<text x="497" y="1028">letalidad</text>
<text x="626" y="645">dosis mínima infectante</text>
<text x="642" y="714">aislamiento</text>
</g>
</svg>
